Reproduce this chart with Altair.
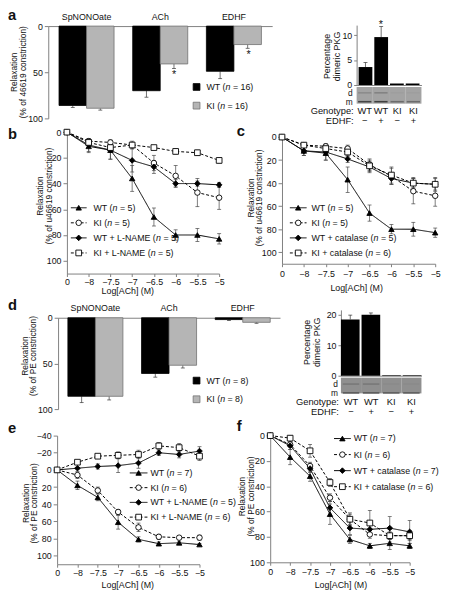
import altair as alt
import pandas as pd

# ---------------- data ----------------
doses = ["0", "−8", "−7.5", "−7", "−6.5", "−6", "−5.5", "−5"]

# panel a (U46619-constricted, bar chart)
a_groups = ["SpNONOate", "ACh", "EDHF"]
a_wt = [86, 70, 49]
a_wt_err = [2, 7, 8]
a_ki = [89, 41, 20]
a_ki_err = [2, 5, 4]
a_ki_star = [False, True, True]
a_legend = ["WT (n = 16)", "KI (n = 16)"]

# inset lanes
lanes = ["WT −", "WT +", "KI −", "KI +"]
lane_geno = ["WT", "WT", "KI", "KI"]
lane_edhf = ["−", "+", "−", "+"]
a_dimer = [3.6, 9.6, 0.3, 0.3]
a_dimer_err = [0.9, 2.1, 0.0, 0.0]
a_dimer_star = [False, True, False, False]
a_gel_d = [0.25, 0.35, 0.05, 0.05]
a_gel_m = [0.8, 0.85, 0.45, 0.45]

# panel b
b_labels = ["WT (n = 5)", "KI (n = 5)", "WT + L-NAME (n = 5)", "KI + L-NAME (n = 5)"]
b_wt = [0, 11, 14, 36, 66, 80, 80, 83]
b_wt_err = [0, 5, 7, 10, 7, 4, 5, 4]
b_ki = [0, 7, 8, 10, 24, 34, 47, 51]
b_ki_err = [0, 2, 2, 3, 6, 8, 11, 9]
b_wtl = [0, 10, 14, 22, 27, 40, 40, 41]
b_wtl_err = [0, 5, 7, 9, 5, 3, 2, 2]
b_kil = [0, 8, 12, 10, 12, 15, 16, 22]
b_kil_err = [0, 1, 2, 2, 1, 2, 2, 2]

# panel c
c_labels = ["WT (n = 5)", "KI (n = 5)", "WT + catalase (n = 5)", "KI + catalase (n = 6)"]
c_wt = [0, 12, 14, 37, 66, 80, 80, 83]
c_wt_err = [0, 4, 6, 11, 7, 4, 6, 4]
c_ki = [0, 7, 8, 10, 24, 34, 47, 51]
c_ki_err = [0, 2, 2, 3, 5, 7, 11, 9]
c_wtc = [0, 12, 13, 19, 26, 36, 40, 41]
c_wtc_err = [0, 4, 7, 3, 5, 5, 5, 5]
c_kic = [0, 7, 10, 13, 25, 33, 40, 41]
c_kic_err = [0, 1, 2, 4, 5, 7, 4, 6]

# panel d (PE-constricted, bar chart)
d_wt = [86, 61, 2]
d_wt_err = [7, 4, 1]
d_ki = [86, 52, 5]
d_ki_err = [4, 3, 1]
d_ki_star = [False, False, False]
d_legend = ["WT (n = 8)", "KI (n = 8)"]
d_dimer = [18.4, 19.9, 0.2, 0.2]
d_dimer_err = [1.4, 0.6, 0.0, 0.0]
d_dimer_star = [False, False, False, False]
d_gel_d = [0.3, 0.3, 0.05, 0.05]
d_gel_m = [0.55, 0.55, 0.5, 0.5]

# panel e
e_labels = ["WT (n = 7)", "KI (n = 6)", "WT + L-NAME (n = 5)", "KI + L-NAME (n = 6)"]
e_wt = [0, 18, 32, 61, 81, 86, 85, 87]
e_wt_err = [0, 5, 4, 8, 3, 2, 2, 1]
e_ki = [0, 6, 24, 49, 67, 78, 79, 79]
e_ki_err = [0, 4, 4, 3, 5, 3, 1, 3]
e_wtl = [0, -2, -4, -5, -8, -20, -18, -22]
e_wtl_err = [0, 1, 3, 8, 6, 3, 4, 5]
e_kil = [0, -9, -16, -17, -18, -28, -26, -16]
e_kil_err = [0, 1, 1, 4, 5, 4, 5, 5]

# panel f
f_labels = ["WT (n = 7)", "KI (n = 6)", "WT + catalase (n = 7)", "KI + catalase (n = 6)"]
f_wt = [0, 17, 32, 62, 82, 87, 85, 87]
f_wt_err = [0, 6, 4, 8, 3, 2, 5, 2]
f_ki = [0, 7, 24, 49, 66, 78, 79, 79]
f_ki_err = [0, 2, 3, 3, 4, 3, 3, 3]
f_wtc = [0, 8, 26, 57, 73, 74, 73, 76]
f_wtc_err = [0, 3, 3, 5, 5, 4, 9, 9]
f_kic = [0, 2, 12, 37, 66, 69, 79, 79]
f_kic_err = [0, 2, 5, 3, 5, 10, 5, 4]

# ---------------- layout helpers ----------------
W, H = 446, 593
M = 8
FONT = "Liberation Sans, Arial, sans-serif"
AXC = "#808080"
TXC = "#111111"
ONE = pd.DataFrame({"k": [0]})
LEG_FS = 9

# Arial / Liberation Sans advance widths (per 1000 em) for legend layout
ADV = {" ": 278, "(": 333, ")": 333, "=": 584, "+": 584, "-": 333, "W": 944, "T": 611,
       "K": 667, "I": 278, "L": 556, "N": 722, "A": 667, "M": 833, "E": 667, "c": 500,
       "a": 556, "t": 278, "l": 222, "s": 500, "e": 556, "n": 556}


def tw(s, size):
    return sum(ADV.get(ch, 556) for ch in s) * size / 1000.0


def X(v):
    return v - M


def Y(v):
    return v - M


def txt(s, x, y, size=9, angle=0, weight="normal", align="center", baseline="middle",
        style="normal"):
    return alt.Chart(ONE).mark_text(
        text=s, fontSize=size, angle=angle, fontWeight=weight, align=align,
        baseline=baseline, font=FONT, color=TXC, fontStyle=style
    ).encode(x=alt.value(X(x)), y=alt.value(Y(y)))


def legend_texts(labels, x0, y0, y1):
    out = []
    n = len(labels)
    for i, lab in enumerate(labels):
        y = y0 + i * (y1 - y0) / (n - 1)
        k = lab.index("(n")
        pre, suf = lab[:k + 1], lab[k + 2:]
        wp = tw(pre, LEG_FS)
        wn = tw("n", LEG_FS)
        lead = len(suf) - len(suf.lstrip(" "))
        ws = tw(" " * lead, LEG_FS)
        out.append(txt(pre, x0, y, size=LEG_FS, align="left"))
        out.append(txt("n", x0 + wp, y, size=LEG_FS, align="left", style="italic"))
        out.append(txt(suf.lstrip(" "), x0 + wp + wn + ws, y, size=LEG_FS, align="left"))
    return out


def ax_left(xpix, values, tick=4):
    return alt.Axis(orient="left", offset=-X(xpix), values=values, title=None, grid=False,
                    tickSize=tick, labelPadding=2, labelOverlap=False)


def ax_bottom(ypix, labels=True, ticks=True, tick=3, pad=1):
    return alt.Axis(orient="bottom", offset=Y(ypix) - H, title=None, grid=False,
                    labels=labels, ticks=ticks, tickSize=tick, labelPadding=pad,
                    labelAngle=0, labelOverlap=False)


GENO = ["WT", "KI"]
FILL_S = alt.Scale(domain=GENO, range=["#000000", "#b5b5b5"])
STROKE_S = alt.Scale(domain=GENO, range=["#000000", "#707070"])


def bar_panel(groups, wt, wt_err, ki, ki_err, ki_star, legend, x0, x1, y0, y1, pin, pout,
              leg_x, leg_y0, leg_y1):
    df = pd.DataFrame({
        "group": groups * 2,
        "geno": ["WT"] * len(groups) + ["KI"] * len(groups),
        "val": wt + ki,
        "err": wt_err + ki_err,
        "star": [False] * len(groups) + ki_star,
    })
    df["hi"] = df["val"] + df["err"]
    xs = alt.Scale(domain=groups, range=[X(x0), X(x1)], paddingInner=pin, paddingOuter=pout)
    xo = alt.Scale(domain=GENO, paddingInner=0, paddingOuter=0)
    ys = alt.Scale(domain=[0, 100], range=[Y(y0), Y(y1)], nice=False, zero=True)
    xn = alt.X("group:N", scale=xs, axis=None)
    xoff = alt.XOffset("geno:N", scale=xo)
    step = (x1 - x0) / (len(groups) - pin + 2 * pout)
    half_bar = step * (1 - pin) / 4
    bars = alt.Chart(df).mark_bar(strokeWidth=0.8).encode(
        x=alt.X("group:N", scale=xs,
                axis=alt.Axis(orient="top", offset=-Y(y0), title=None, ticks=False,
                              labelPadding=5, labelAngle=0, grid=False)),
        xOffset=xoff,
        y=alt.Y("val:Q", scale=ys, axis=ax_left(x0, [0, 50, 100])),
        fill=alt.Fill("geno:N", scale=FILL_S, legend=None),
        stroke=alt.Stroke("geno:N", scale=STROKE_S, legend=None),
    )
    rules = alt.Chart(df).mark_rule(color="#333333", strokeWidth=0.7).encode(
        x=xn, xOffset=xoff, y=alt.Y("val:Q", scale=ys, axis=None), y2="hi:Q")
    caps = alt.Chart(df).mark_tick(color="#333333", thickness=0.7, size=4, opacity=1).encode(
        x=xn, xOffset=xoff, y=alt.Y("hi:Q", scale=ys, axis=None))
    stars = alt.Chart(df[df["star"]]).mark_text(
        text="*", fontSize=11, baseline="top", dy=1, dx=half_bar, font=FONT, color=TXC).encode(
        x=xn, y=alt.Y("hi:Q", scale=ys, axis=None))
    ldf = pd.DataFrame({"geno": GENO, "label": legend})
    ly = alt.Y("geno:N", scale=alt.Scale(type="point", domain=GENO, range=[Y(leg_y0), Y(leg_y1)],
                                         padding=0), axis=None)
    lsq = alt.Chart(ldf).mark_square(size=48, opacity=1, strokeWidth=0.8).encode(
        x=alt.value(X(leg_x)), y=ly,
        fill=alt.Fill("geno:N", scale=FILL_S, legend=None),
        stroke=alt.Stroke("geno:N", scale=STROKE_S, legend=None))
    return [rules, bars, caps, stars, lsq] + legend_texts(legend, leg_x + 10, leg_y0, leg_y1)


def inset_panel(vals, errs, star, gel_d, gel_m, x0, x1, pin, pout, y_base, y_top, ymax, yvals,
                gel_y0, gel_y1, gel_col, dm_x, d_y, m_y, geno_y, edhf_y, lab_right):
    df = pd.DataFrame({"lane": lanes, "geno": lane_geno, "edhf": lane_edhf, "val": vals,
                       "err": errs, "star": star, "gd": gel_d, "gm": gel_m})
    df["hi"] = df["val"] + df["err"]
    xs = alt.Scale(domain=lanes, range=[X(x0), X(x1)], paddingInner=pin, paddingOuter=pout)
    xg = alt.Scale(domain=lanes, range=[X(x0), X(x1)], paddingInner=0, paddingOuter=0)
    xb = alt.Scale(domain=lanes, range=[X(x0), X(x1)], paddingInner=0.18, paddingOuter=0.09)
    ys = alt.Scale(domain=[0, ymax], range=[Y(y_base), Y(y_top)], nice=False, zero=True)
    xn = alt.X("lane:N", scale=xs, axis=None)
    bars = alt.Chart(df).mark_bar(color="#000000").encode(
        x=alt.X("lane:N", scale=xs, axis=ax_bottom(y_base, labels=False, ticks=False)),
        y=alt.Y("val:Q", scale=ys, axis=ax_left(x0, yvals, tick=3)))
    eb = df[df["err"] > 0]
    rules = alt.Chart(eb).mark_rule(color="#333333", strokeWidth=0.7).encode(
        x=xn, y=alt.Y("val:Q", scale=ys, axis=None), y2="hi:Q")
    caps = alt.Chart(eb).mark_tick(color="#333333", thickness=0.7, size=4, opacity=1).encode(
        x=xn, y=alt.Y("hi:Q", scale=ys, axis=None))
    stars = alt.Chart(df[df["star"]]).mark_text(
        text="*", fontSize=11, baseline="bottom", dy=3, font=FONT, color=TXC).encode(
        x=xn, y=alt.Y("hi:Q", scale=ys, axis=None))
    gel = alt.Chart(df).mark_rect(color=gel_col).encode(
        x=alt.X("lane:N", scale=xg, axis=None), y=alt.value(Y(gel_y0)), y2=alt.value(Y(gel_y1)))
    shade = alt.Scale(domain=[0, 1], range=[gel_col, "#303030"])
    band_d = alt.Chart(df).mark_rect().encode(
        x=alt.X("lane:N", scale=xb, axis=None), y=alt.value(Y(d_y - 0.6)),
        y2=alt.value(Y(d_y + 0.6)), fill=alt.Fill("gd:Q", scale=shade, legend=None))
    band_m = alt.Chart(df).mark_rect().encode(
        x=alt.X("lane:N", scale=xb, axis=None), y=alt.value(Y(m_y - 0.8)),
        y2=alt.value(Y(m_y + 0.8)), fill=alt.Fill("gm:Q", scale=shade, legend=None))
    geno_t = alt.Chart(df).mark_text(fontSize=9.5, font=FONT, color=TXC, baseline="middle").encode(
        x=xn, y=alt.value(Y(geno_y)), text="geno:N")
    edhf_t = alt.Chart(df).mark_text(fontSize=9.5, font=FONT, color=TXC, baseline="middle").encode(
        x=xn, y=alt.value(Y(edhf_y)), text="edhf:N")
    extra = [
        txt("d", dm_x, d_y, size=8.5, align="right"),
        txt("m", dm_x, m_y, size=8.5, align="right"),
        txt("Genotype:", lab_right, geno_y, size=9.5, align="right"),
        txt("EDHF:", lab_right, edhf_y, size=9.5, align="right"),
    ]
    return [gel, band_d, band_m, rules, bars, caps, stars, geno_t, edhf_t] + extra


STY_SHAPE = ["triangle-up", "circle", "diamond", "square"]
STY_FILL = ["#000000", "#ffffff", "#000000", "#ffffff"]
STY_DASH = [[1, 0], [3, 2], [1, 0], [3, 2]]
STY_SIZE = [30, 34, 26, 16]


def line_panel(labels, vals_list, errs_list, x0, x1, yt, yb, ydom, yvals,
               leg_y0, leg_y1, lx0, lx1, ltx, xpad=1):
    recs = []
    for lab, vals, errs in zip(labels, vals_list, errs_list):
        for i, (d, v, e) in enumerate(zip(doses, vals, errs)):
            recs.append(dict(series=lab, dose=d, idx=i, val=v, err=e, lo=v - e, hi=v + e))
    df = pd.DataFrame(recs)
    xs = alt.Scale(type="point", domain=doses, range=[X(x0), X(x1)], padding=0)
    ys = alt.Scale(domain=ydom, range=[Y(yt), Y(yb)], nice=False, zero=False)
    xe = alt.X("dose:N", scale=xs, axis=None)
    dash_s = alt.Scale(domain=labels, range=STY_DASH)
    shape_s = alt.Scale(domain=labels, range=STY_SHAPE)
    fill_s = alt.Scale(domain=labels, range=STY_FILL)
    size_s = alt.Scale(domain=labels, range=STY_SIZE)
    eb = df[df["err"] > 0]
    rules = alt.Chart(eb).mark_rule(color="#444444", strokeWidth=0.7).encode(
        x=xe, y=alt.Y("lo:Q", scale=ys, axis=None), y2="hi:Q")
    caps_df = pd.concat([eb.assign(cap=eb["lo"]), eb.assign(cap=eb["hi"])])
    caps = alt.Chart(caps_df).mark_tick(color="#444444", thickness=0.7, size=4, opacity=1).encode(
        x=xe, y=alt.Y("cap:Q", scale=ys, axis=None))
    lines = alt.Chart(df).mark_line(color="#000000", strokeWidth=1).encode(
        x=alt.X("dose:N", scale=xs, axis=ax_bottom(yb, pad=xpad)),
        y=alt.Y("val:Q", scale=ys, axis=ax_left(x0, yvals)),
        detail="series:N",
        strokeDash=alt.StrokeDash("series:N", scale=dash_s, legend=None),
        order="idx:Q")
    pts = alt.Chart(df).mark_point(filled=True, opacity=1, stroke="#000000", strokeWidth=0.9).encode(
        x=xe, y=alt.Y("val:Q", scale=ys, axis=None),
        shape=alt.Shape("series:N", scale=shape_s, legend=None),
        fill=alt.Fill("series:N", scale=fill_s, legend=None),
        size=alt.Size("series:N", scale=size_s, legend=None))
    ldf = pd.DataFrame({"series": labels})
    ly = alt.Y("series:N", scale=alt.Scale(type="point", domain=labels,
                                           range=[Y(leg_y0), Y(leg_y1)], padding=0), axis=None)
    lrule = alt.Chart(ldf).mark_rule(color="#000000", strokeWidth=1).encode(
        x=alt.value(X(lx0)), x2=alt.value(X(lx1)), y=ly,
        strokeDash=alt.StrokeDash("series:N", scale=dash_s, legend=None))
    lpts = alt.Chart(ldf).mark_point(filled=True, opacity=1, stroke="#000000", strokeWidth=0.9).encode(
        x=alt.value(X((lx0 + lx1) / 2)), y=ly,
        shape=alt.Shape("series:N", scale=shape_s, legend=None),
        fill=alt.Fill("series:N", scale=fill_s, legend=None),
        size=alt.Size("series:N", scale=size_s, legend=None))
    return [rules, caps, lines, pts, lrule, lpts] + legend_texts(labels, ltx, leg_y0, leg_y1)


layers = []

# ---- panel a ----
layers += bar_panel(a_groups, a_wt, a_wt_err, a_ki, a_ki_err, a_ki_star, a_legend,
                    49, 277, 21, 115, 0.253, 0.146, 200, 83, 102)
layers += [txt("a", 8, 10, size=15, weight="bold", align="left"),
           txt("Relaxation", 14, 68, size=8.5, angle=270),
           txt("(% of 46619 constriction)", 23, 68, size=8.5, angle=270)]
layers += inset_panel(a_dimer, a_dimer_err, a_dimer_star, a_gel_d, a_gel_m,
                      363, 429, 0.125, 0.125, 81, 20, 12, [0, 5, 10],
                      83, 100, "#a3a3a3", 359, 89, 98, 107.5, 117.5, 360)
layers += [txt("Percentage", 333, 52, size=9, angle=270),
           txt("dimeric PKG", 343, 52, size=9, angle=270)]

# ---- panel b ----
layers += line_panel(b_labels, [b_wt, b_ki, b_wtl, b_kil], [b_wt_err, b_ki_err, b_wtl_err, b_kil_err],
                     68, 223, 129, 273, [0, 110], [0, 20, 40, 60, 80, 100],
                     206, 252, 72, 88, 95, xpad=1)
layers += [txt("b", 8, 131, size=15, weight="bold", align="left"),
           txt("Relaxation", 41, 194, size=8.5, angle=270),
           txt("(% of u46619 constriction)", 49.5, 194, size=8.5, angle=270),
           txt("Log[ACh] (M)", 130, 291)]

# ---- panel c ----
layers += line_panel(c_labels, [c_wt, c_ki, c_wtc, c_kic], [c_wt_err, c_ki_err, c_wtc_err, c_kic_err],
                     287, 443, 134, 263, [0, 110], [0, 20, 40, 60, 80, 100],
                     206, 252, 295, 312, 317, xpad=3)
layers += [txt("c", 241, 128, size=15, weight="bold", align="left"),
           txt("Relaxation", 255, 196, size=8.5, angle=270),
           txt("(% of u46619 constriction)", 263.5, 196, size=8.5, angle=270),
           txt("Log[ACh] (M)", 363, 288)]

# ---- panel d ----
layers += bar_panel(a_groups, d_wt, d_wt_err, d_ki, d_ki_err, d_ki_star, d_legend,
                    59, 285, 318, 411, 0.253, 0.133, 200, 382, 401)
layers += [txt("d", 8, 305, size=15, weight="bold", align="left"),
           txt("Relaxation", 25, 357, size=8.5, angle=270),
           txt("(% of PE constriction)", 34, 357, size=8.5, angle=270)]
layers += inset_panel(d_dimer, d_dimer_err, d_dimer_star, d_gel_d, d_gel_m,
                      347, 429, 0.095, 0.0, 377, 310, 21.5, [0, 10, 20],
                      379, 395, "#8f8f8f", 344, 385.5, 394.5, 404, 414, 345)
layers += [txt("Percentage", 313, 343, size=9, angle=270),
           txt("dimeric PKG", 323, 343, size=9, angle=270)]

# ---- panel e ----
layers += line_panel(e_labels, [e_wt, e_ki, e_wtl, e_kil], [e_wt_err, e_ki_err, e_wtl_err, e_kil_err],
                     58, 203, 438, 569, [-40, 110], [-40, -20, 0, 20, 40, 60, 80, 100],
                     476, 521, 132, 150, 153, xpad=1)
layers += [txt("e", 8, 430, size=15, weight="bold", align="left"),
           txt("Relaxation", 26, 507, size=8.5, angle=270),
           txt("(% of PE constriction)", 35, 507, size=8.5, angle=270),
           txt("Log[ACh] (M)", 130, 590)]

# ---- panel f ----
layers += line_panel(f_labels, [f_wt, f_ki, f_wtc, f_kic], [f_wt_err, f_ki_err, f_wtc_err, f_kic_err],
                     275, 417, 438, 567, [0, 100], [0, 20, 40, 60, 80, 100],
                     441, 490, 340, 357, 360, xpad=2)
layers += [txt("f", 241, 428, size=15, weight="bold", align="left"),
           txt("Relaxation", 246, 500, size=8.5, angle=270),
           txt("(% of PE constriction)", 255, 500, size=8.5, angle=270),
           txt("Log[ACh] (M)", 347, 590)]

chart = alt.layer(*layers).resolve_scale(
    x="independent", y="independent", xOffset="independent", fill="independent",
    stroke="independent", shape="independent", size="independent", strokeDash="independent"
).properties(
    width=W, height=H, padding=0, background="white",
    autosize=alt.AutoSizeParams(type="none")
).configure_view(stroke=None).configure_axis(
    labelFont=FONT, labelFontSize=9, labelColor=TXC, domainColor=AXC, tickColor=AXC,
    domainWidth=1, tickWidth=1
)

chart.save("out.html", embed_options={"renderer": "svg", "actions": False})
